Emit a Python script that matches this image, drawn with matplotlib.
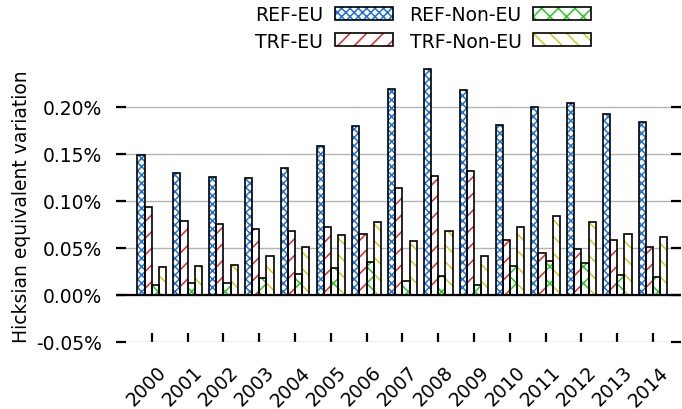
import numpy as np
import matplotlib
matplotlib.use("Agg")
import matplotlib.pyplot as plt
from matplotlib.patches import Patch
from matplotlib.legend_handler import HandlerTuple
from matplotlib.transforms import ScaledTranslation, blended_transform_factory

# datos (en %)
years = ["2000", "2001", "2002", "2003", "2004", "2005", "2006", "2007",
         "2008", "2009", "2010", "2011", "2012", "2013", "2014"]
ref_eu = [0.149, 0.130, 0.126, 0.125, 0.135, 0.159, 0.180, 0.219,
          0.240, 0.218, 0.181, 0.200, 0.204, 0.193, 0.184]
trf_eu = [0.094, 0.079, 0.076, 0.070, 0.068, 0.072, 0.065, 0.114,
          0.127, 0.132, 0.058, 0.045, 0.049, 0.058, 0.051]
ref_noneu = [0.011, 0.0125, 0.013, 0.018, 0.022, 0.029, 0.035, 0.015,
             0.020, 0.011, 0.031, 0.036, 0.034, 0.021, 0.019]
trf_noneu = [0.030, 0.031, 0.032, 0.041, 0.051, 0.064, 0.078, 0.057,
             0.068, 0.042, 0.072, 0.084, 0.078, 0.065, 0.062]
yticks = [-0.05, 0.00, 0.05, 0.10, 0.15, 0.20]

series = [
    ("REF-EU", ref_eu, "#1f70d8", "xxxx"),
    ("TRF-EU", trf_eu, "#e42626", "//"),
    ("REF-Non-EU", ref_noneu, "#22cc22", "xx"),
    ("TRF-Non-EU", trf_noneu, "#cccc1e", "\\\\"),
]

plt.rcParams["font.family"] = "DejaVu Sans"
plt.rcParams["hatch.linewidth"] = 1.1
FS = 13.5

fig = plt.figure(figsize=(6.82, 4.10), dpi=100)
ax = fig.add_axes([116/682, 1 - 343/410, (681 - 116)/682, (343 - 61)/410])

x = np.arange(len(years))
w = 0.2
handles = []
for i, (name, vals, col, hat) in enumerate(series):
    pos = x - 0.4 + w/2 + i*w
    ax.bar(pos, vals, w, color="white", edgecolor=col, hatch=hat, linewidth=0, zorder=2)
    ax.bar(pos, vals, w, fill=False, edgecolor="black", linewidth=1.2, zorder=3)
    h1 = Patch(facecolor="white", edgecolor=col, hatch=hat, linewidth=0)
    h2 = Patch(fill=False, edgecolor="black", linewidth=1.2)
    handles.append((h1, h2))

ax.axhline(0, color="black", linewidth=1.6, zorder=4)

ax.set_xlim(-1.0, 14.78)
ax.set_ylim(-0.05, 0.25)
ax.set_yticks(yticks)
ax.set_yticklabels([f"{v:.2f}%" for v in yticks], fontsize=FS)
ax.set_xticks(x)
ax.set_xticklabels([])

# etiquetas del eje x, corridas un poco a la derecha como en el original
trans = blended_transform_factory(ax.transData, ax.transAxes) + \
    ScaledTranslation(0.12, -0.27, fig.dpi_scale_trans)
for xi, yr in zip(x, years):
    ax.text(xi, 0, yr, transform=trans, fontsize=FS, rotation=45,
            ha="right", va="center", rotation_mode="anchor")

ax.yaxis.grid(True, color="#b4b4b4", linewidth=1.0, zorder=0)
ax.set_axisbelow(True)
for s in ax.spines.values():
    s.set_visible(False)
ax.tick_params(axis="y", direction="in", length=7, width=1.6, pad=10,
               left=True, right=True)
ax.tick_params(axis="x", direction="in", length=6.5, width=1.6)

fig.text(22/682, 1 - 207/410, "Hicksian equivalent variation", rotation=90,
         ha="center", va="center", fontsize=13.5)

ax.legend(handles, [s[0] for s in series], handler_map={tuple: HandlerTuple(ndivide=1)},
          ncol=2, markerfirst=False, frameon=False, fontsize=FS,
          handlelength=3.1, handleheight=0.68, handletextpad=0.6,
          columnspacing=0.9, labelspacing=0.4,
          loc="upper right", bbox_to_anchor=(591/682, 1 - 6/410),
          bbox_transform=fig.transFigure, borderaxespad=0, borderpad=0)

fig.savefig("out.png", dpi=100)
